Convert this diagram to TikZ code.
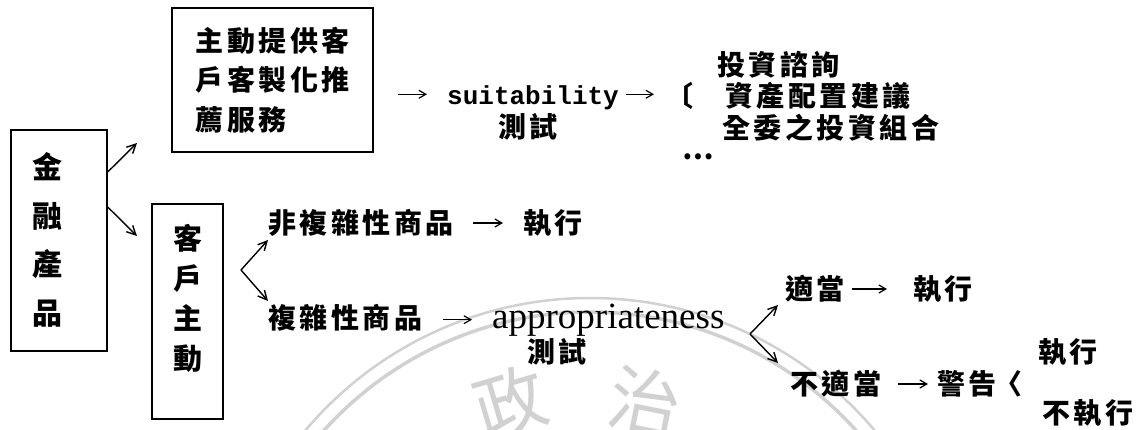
\documentclass[tikz,border=0pt]{standalone}
\usepackage{fontspec}
\setmainfont{Liberation Serif}
\newfontfamily\cjk{Noto Sans CJK TC}[LetterSpace=12.5]
\newfontfamily\cjkv{Noto Sans CJK TC}
\newfontfamily\monof{Liberation Mono}
\usetikzlibrary{arrows.meta,calc}
\begin{document}
\begin{tikzpicture}[x=1pt,y=-1pt,
  box/.style={draw, line width=1.4pt, inner sep=0pt},
  ct/.style={font=\cjk\bfseries\fontsize{28}{39.5}\selectfont, inner sep=0pt, anchor=west},
  ctv/.style={inner sep=0pt, align=center},
  tarr/.style={-{Straight Barb[length=7pt,width=8pt]}, line width=1.2pt},
  darr/.style={-{Straight Barb[length=9pt,width=9pt]}, line width=1.4pt},
  wm/.style={font=\cjkv\fontsize{72}{72}\selectfont, text=black!18, inner sep=0pt},
  ring/.style={draw=black!18}]
\useasboundingbox (0,0) rectangle (1139,430);
% watermark
\begin{scope}
\clip (0,0) rectangle (1139,430);
\draw[ring, line width=2.5pt] (590,670) circle[radius=372pt];
\draw[ring, line width=3.5pt] (590,670) circle[radius=358pt];
\end{scope}
\node[wm, rotate=16.5] (wm1) at (510,402) {政};
\node[wm, rotate=-11.4] (wm2) at (645,402) {治};
% boxes
\node[box, minimum width=201pt, minimum height=144pt, align=left,
  font=\cjk\bfseries\fontsize{28}{39.5}\selectfont] (b1) at (272.5,80) {主動提供客\\戶客製化推\\薦服務};
\node[box, minimum width=96pt, minimum height=221pt] (b2) at (59,240.5) {};
\node[ctv, font=\cjkv\bfseries\fontsize{30}{48.7}\selectfont] (b2t) at (47,240) {金\\融\\產\\品};
\node[box, minimum width=71pt, minimum height=215pt] (b3) at (187.5,311.5) {};
\node[ctv, font=\cjkv\bfseries\fontsize{29}{40}\selectfont] (b3t) at (188,298.5) {客\\戶\\主\\動};
\coordinate (u1) at (137,143);
\coordinate (d1) at (137,236);
\draw[darr] ([yshift=68.5pt]b2.east) -- (u1);
\draw[darr] ([yshift=33.5pt]b2.east) -- (d1);
% top row
\node[font=\monof\bfseries\fontsize{26}{26}\selectfont, inner sep=0pt, anchor=base west] (su) at (447,105) {suitability};
\draw[tarr] ($(su.west)+(-49,-4)$) -- ($(su.west)+(-20,-4)$);
\node[ct] (ts1) at (498,127) {測試};
\node[ct] (br1) at (665,96) {〔};
\draw[tarr] ($(su.east)+(7,-4)$) -- ($(su.east)+(35,-4)$);
\node[ct] (l1) at (717,65) {投資諮詢};
\node[ct] (l2) at (725,96) {資產配置建議};
\node[ct] (l3) at (722,127.5) {全委之投資組合};
\node[ct, anchor=center] (l4) at (698,157) {…};
% client initiated
\coordinate (f1) at (241,270);
\coordinate (f1a) at (268,240);
\coordinate (f1b) at (268,301);
\draw[darr] (f1) -- (f1a);
\draw[darr] (f1) -- (f1b);
\node[ct] (nc) at (268,223) {非複雜性商品};
\node[ct] (nce) at (523,223) {執行};
\draw[tarr] ($(nce.west)+(-50,0)$) -- ($(nce.west)+(-20,0)$);
\node[ct] (cp) at (268,318) {複雜性商品};
\node[font=\fontsize{37}{37}\selectfont, inner sep=0pt, anchor=base west] (ap) at (492,328) {appropriateness};
\draw[tarr] ($(ap.west)+(-49,0)$) -- ($(ap.west)+(-20,0)$);
\node[ct] (ts2) at (527,352) {測試};
\coordinate (f2) at (750,334);
\coordinate (f2a) at (778,305);
\coordinate (f2b) at (778,363);
\draw[darr] (f2) -- (f2a);
\draw[darr] (f2) -- (f2b);
\node[ct] (sh) at (785,289) {適當};
\node[ct] (she) at (913,289) {執行};
\draw[tarr] ($(she.west)+(-61,0)$) -- ($(she.west)+(-26,0)$);
\node[ct] (ns) at (790,384) {不適當};
\node[ct] (wn) at (937,384) {警告};
\draw[tarr] ($(wn.west)+(-39,0)$) -- ($(wn.west)+(-9,0)$);
\node[ct] (br2) at (994,384) {〈};
\node[ct] (ex1) at (1038,352) {執行};
\node[ct] (ex2) at (1042,413) {不執行};
\end{tikzpicture}
\end{document}
